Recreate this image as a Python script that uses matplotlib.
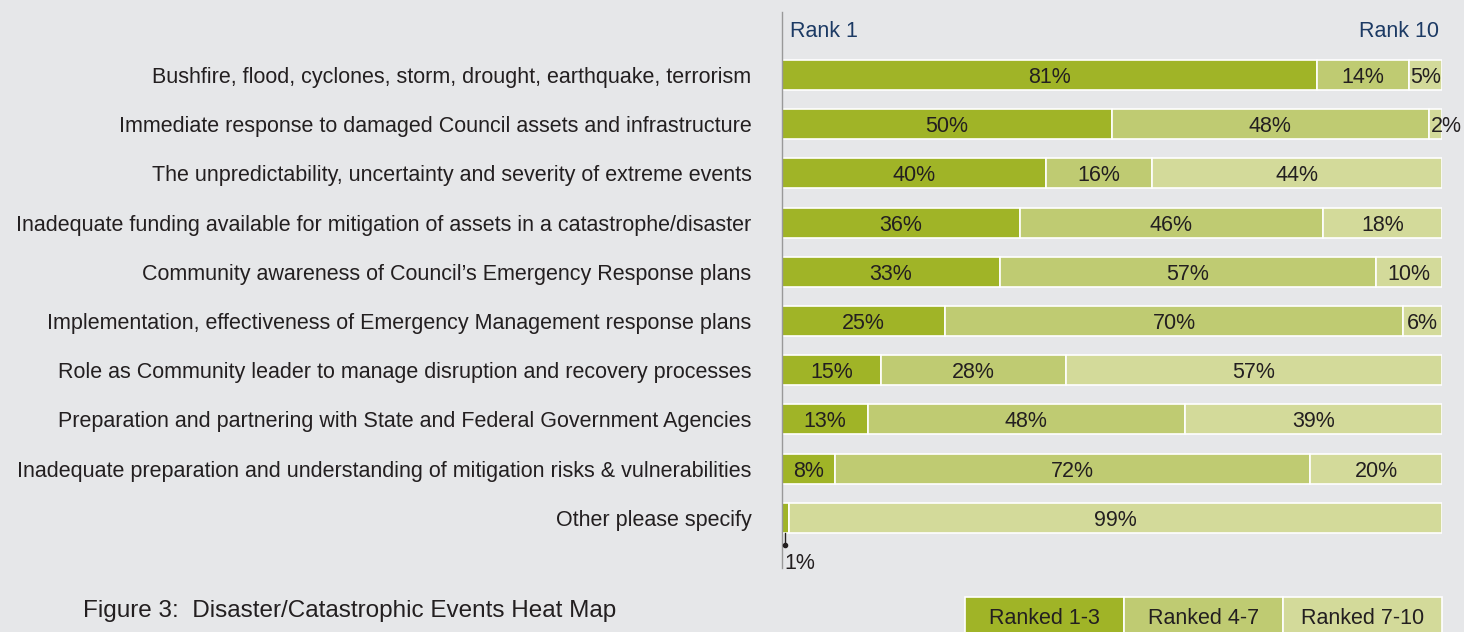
import numpy as np
import matplotlib.pyplot as plt
from matplotlib.patches import Rectangle

plt.rcParams["font.family"] = ["Liberation Sans", "DejaVu Sans"]

categories = [
    "Bushfire, flood, cyclones, storm, drought, earthquake, terrorism",
    "Immediate response to damaged Council assets and infrastructure",
    "The unpredictability, uncertainty and severity of extreme events",
    "Inadequate funding available for mitigation of assets in a catastrophe/disaster",
    "Community awareness of Council\u2019s Emergency Response plans",
    "Implementation, effectiveness of Emergency Management response plans",
    "Role as Community leader to manage disruption and recovery processes",
    "Preparation and partnering with State and Federal Government Agencies",
    "Inadequate preparation and understanding of mitigation risks & vulnerabilities",
    "Other please specify",
]
ranked_1_3 = [81, 50, 40, 36, 33, 25, 15, 13, 8, 1]
ranked_4_7 = [14, 48, 16, 46, 57, 70, 28, 48, 72, 0]
ranked_7_10 = [5, 2, 44, 18, 10, 6, 57, 39, 20, 99]
legend_labels = ["Ranked 1-3", "Ranked 4-7", "Ranked 7-10"]

bg = "#e6e7e9"
colors = ["#a0b427", "#bfcb72", "#d3da9a"]
text_col = "#231f20"
navy = "#1c3a64"
fs = 15.5

fig = plt.figure(figsize=(14.64, 6.32), dpi=100, facecolor=bg)
ax = fig.add_axes([782 / 1464, 1 - 568 / 632, 660 / 1464, 556 / 632])
ax.set_facecolor(bg)

data = np.array([ranked_1_3, ranked_4_7, ranked_7_10], dtype=float)
totals = data.sum(axis=0)
widths = data / totals * 100
y = np.arange(len(categories))

left = np.zeros(len(categories))
for k in range(3):
    ax.barh(y, widths[k], left=left, height=0.61, color=colors[k],
            edgecolor="white", linewidth=1.2, zorder=2)
    for i in range(len(categories)):
        v = data[k][i]
        if v <= 0:
            continue
        cx = left[i] + widths[k][i] / 2
        if k == 0 and v < 2:
            # tiny segment: label below with a leader
            ax.plot([left[i] + 0.5, left[i] + 0.5], [y[i] + 0.3, y[i] + 0.55],
                    color=text_col, lw=1, zorder=3)
            ax.plot(left[i] + 0.5, y[i] + 0.55, "o", color=text_col, ms=3, zorder=3)
            ax.text(left[i] + 0.3, y[i] + 0.88, "%d%%" % v, ha="left", va="center_baseline",
                    fontsize=fs, color=text_col)
            continue
        if widths[k][i] < 4:
            cx = left[i] + widths[k][i] + 0.6
        ax.text(cx, y[i], "%d%%" % v, ha="center", va="center_baseline",
                fontsize=fs, color=text_col, zorder=4)
    left += widths[k]

ax.set_xlim(0, 100)
ax.set_ylim(10.02, -1.28)
ax.set_yticks(y)
ax.set_yticklabels(categories, fontsize=fs, color=text_col)
ax.tick_params(axis="y", length=0, pad=22)
ax.set_xticks([])
for s in ["top", "right", "bottom"]:
    ax.spines[s].set_visible(False)
ax.spines["left"].set_color("#999999")
ax.spines["left"].set_linewidth(1)

ax.text(1.2, -0.93, "Rank 1", ha="left", va="center_baseline", fontsize=fs, color=navy)
ax.text(99.6, -0.93, "Rank 10", ha="right", va="center_baseline", fontsize=fs, color=navy)

# legend boxes
lax = fig.add_axes([965 / 1464, 0, 477 / 1464, 35 / 632])
lax.set_xlim(0, 3)
lax.set_ylim(0, 1)
lax.axis("off")
for k, lab in enumerate(legend_labels):
    lax.add_patch(Rectangle((k, -0.5), 1, 1.5, facecolor=colors[k], edgecolor="white",
                            linewidth=1.2, clip_on=False))
    lax.text(k + 0.5, 0.45, lab, ha="center", va="center_baseline", fontsize=fs, color=text_col)

fig.text(83 / 1464, 1 - 608 / 632, "Figure 3:  Disaster/Catastrophic Events Heat Map",
         ha="left", va="center_baseline", fontsize=17.5, color=text_col)

fig.savefig("out.png", dpi=100, facecolor=bg)
